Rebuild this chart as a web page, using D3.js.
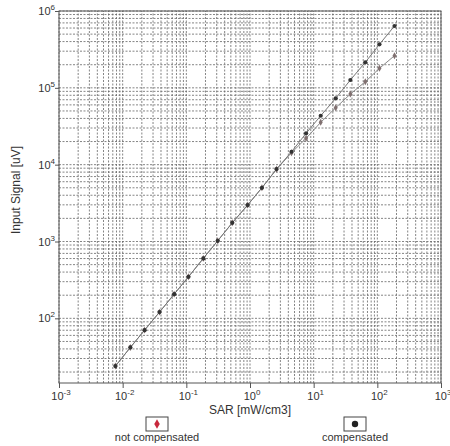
<!DOCTYPE html>
<html>
<head>
<meta charset="utf-8">
<script src="https://cdn.jsdelivr.net/npm/d3@7"></script>
<style>
  body { margin: 0; background: #fff; }
  text { font-family: "Liberation Sans", Arial, sans-serif; fill: #333; }
</style>
</head>
<body>
<div id="chart"></div>
<script>
// values
const sar = [0.0077, 0.0132, 0.0221, 0.0379, 0.0644, 0.108, 0.185, 0.311, 0.527, 0.918,
             1.54, 2.61, 4.49, 7.60, 12.9, 22.2, 37.7, 64.7, 108, 186];
const compensated = [23.9, 41.8, 70.2, 120.5, 206.5, 347, 603, 1021, 1751, 2979,
                     5003, 8765, 14720, 25570, 43340, 73000, 126400, 214800, 368500, 638000];
const notCompensated = [23.9, 41.8, 70.2, 120.5, 206.5, 347, 603, 1021, 1751, 2979,
                        5003, 8700, 14300, 22000, 35550, 55070, 83000, 120000, 179500, 262000];
const xMajors = [1e-3, 1e-2, 1e-1, 1e0, 1e1, 1e2, 1e3];
const xExp = ['-3', '-2', '-1', '0', '1', '2', '3'];
const yMajors = [1e2, 1e3, 1e4, 1e5, 1e6];
const yExp = ['2', '3', '4', '5', '6'];

const width = 450, height = 446;
const margin = {top: 11, right: 9, bottom: 63, left: 59};

const svg = d3.select('#chart')
  .append('svg')
  .attr('width', width)
  .attr('height', height)

const x = d3.scaleLog()
  .domain([1e-3, 1e3])
  .range([margin.left, width - margin.right])
const y = d3.scaleLog()
  .domain([14.4, 1e6])
  .range([height - margin.bottom, margin.top])

// dotted grid on every decade step
const grid = svg.append('g')
  .attr('stroke', '#666')
  .attr('stroke-width', 0.8)
  .attr('stroke-dasharray', '2,1.5')

grid.selectAll('.vx')
  .data(x.ticks())
  .enter().append('line')
  .attr('x1', d => x(d)).attr('x2', d => x(d))
  .attr('y1', y.range()[0]).attr('y2', y.range()[1])

grid.selectAll('.hy')
  .data(y.ticks())
  .enter().append('line')
  .attr('y1', d => y(d)).attr('y2', d => y(d))
  .attr('x1', x.range()[0]).attr('x2', x.range()[1])

// frame
svg.append('rect')
  .attr('x', x.range()[0])
  .attr('y', y.range()[1])
  .attr('width', x.range()[1] - x.range()[0])
  .attr('height', y.range()[0] - y.range()[1])
  .attr('fill', 'none')
  .attr('stroke', '#555')
  .attr('stroke-width', 1)

// axes with short ticks, labels added by hand for the powers of ten
svg.append('g')
  .attr('transform', 'translate(0,' + y.range()[0] + ')')
  .call(d3.axisBottom(x).tickValues(xMajors).tickSize(5).tickFormat(''))
  .call(g => g.select('.domain').remove())
  .call(g => g.selectAll('line').attr('stroke', '#555'))

svg.append('g')
  .attr('transform', 'translate(' + x.range()[0] + ',0)')
  .call(d3.axisLeft(y).tickValues(yMajors).tickSize(4).tickFormat(''))
  .call(g => g.select('.domain').remove())
  .call(g => g.selectAll('line').attr('stroke', '#555'))

const xl = svg.selectAll('.xlab')
  .data(xMajors)
  .enter().append('text')
  .attr('x', d => x(d) + 2)
  .attr('y', y.range()[0] + 17)
  .attr('text-anchor', 'middle')
  .style('font-size', '11px')
xl.append('tspan').text('10')
xl.append('tspan').attr('dy', -5).style('font-size', '8px').text((d, i) => xExp[i])

const yl = svg.selectAll('.ylab')
  .data(yMajors)
  .enter().append('text')
  .attr('x', x.range()[0] - 4)
  .attr('y', d => y(d) + 4)
  .attr('text-anchor', 'end')
  .style('font-size', '11px')
yl.append('tspan').text('10')
yl.append('tspan').attr('dy', -5).style('font-size', '8px').text((d, i) => yExp[i])

svg.append('text')
  .attr('x', 250)
  .attr('y', 414)
  .attr('text-anchor', 'middle')
  .style('font-size', '12px')
  .text('SAR [mW/cm3]')

svg.append('text')
  .attr('transform', 'translate(20,190) rotate(-90)')
  .attr('text-anchor', 'middle')
  .style('font-size', '12px')
  .text('Input Signal [uV]')

// lines
const line = d3.line()
  .x(d => x(d[0]))
  .y(d => y(d[1]))

svg.append('path')
  .datum(sar.map((s, i) => [s, notCompensated[i]]))
  .attr('fill', 'none')
  .attr('stroke', '#888')
  .attr('stroke-width', 1)
  .attr('d', line)

svg.append('path')
  .datum(sar.map((s, i) => [s, compensated[i]]))
  .attr('fill', 'none')
  .attr('stroke', '#777')
  .attr('stroke-width', 1)
  .attr('d', line)

// markers
const diamond = d3.symbol().type(d3.symbolDiamond).size(14)
svg.selectAll('.nc')
  .data(sar)
  .enter().append('path')
  .attr('d', diamond)
  .attr('transform', (d, i) => 'translate(' + x(d) + ',' + y(notCompensated[i]) + ')')
  .attr('fill', '#807070')

svg.selectAll('.cp')
  .data(sar)
  .enter().append('circle')
  .attr('cx', d => x(d))
  .attr('cy', (d, i) => y(compensated[i]))
  .attr('r', 2.1)
  .attr('fill', '#333')

// legend
const legend = [
  {label: 'not compensated', cx: 157},
  {label: 'compensated', cx: 355}
]
const lg = svg.selectAll('.lg')
  .data(legend)
  .enter().append('g')
lg.append('rect')
  .attr('x', d => d.cx - 11)
  .attr('y', 417)
  .attr('width', 22)
  .attr('height', 14)
  .attr('fill', '#fff')
  .attr('stroke', '#444')
lg.append('text')
  .attr('x', d => d.cx)
  .attr('y', 441)
  .attr('text-anchor', 'middle')
  .style('font-size', '11px')
  .text(d => d.label)

svg.append('path')
  .attr('d', d3.symbol().type(d3.symbolDiamond).size(26))
  .attr('transform', 'translate(157,424)')
  .attr('fill', '#c8283c')
svg.append('circle')
  .attr('cx', 355).attr('cy', 424).attr('r', 3.2)
  .attr('fill', '#222')
</script>
</body>
</html>
